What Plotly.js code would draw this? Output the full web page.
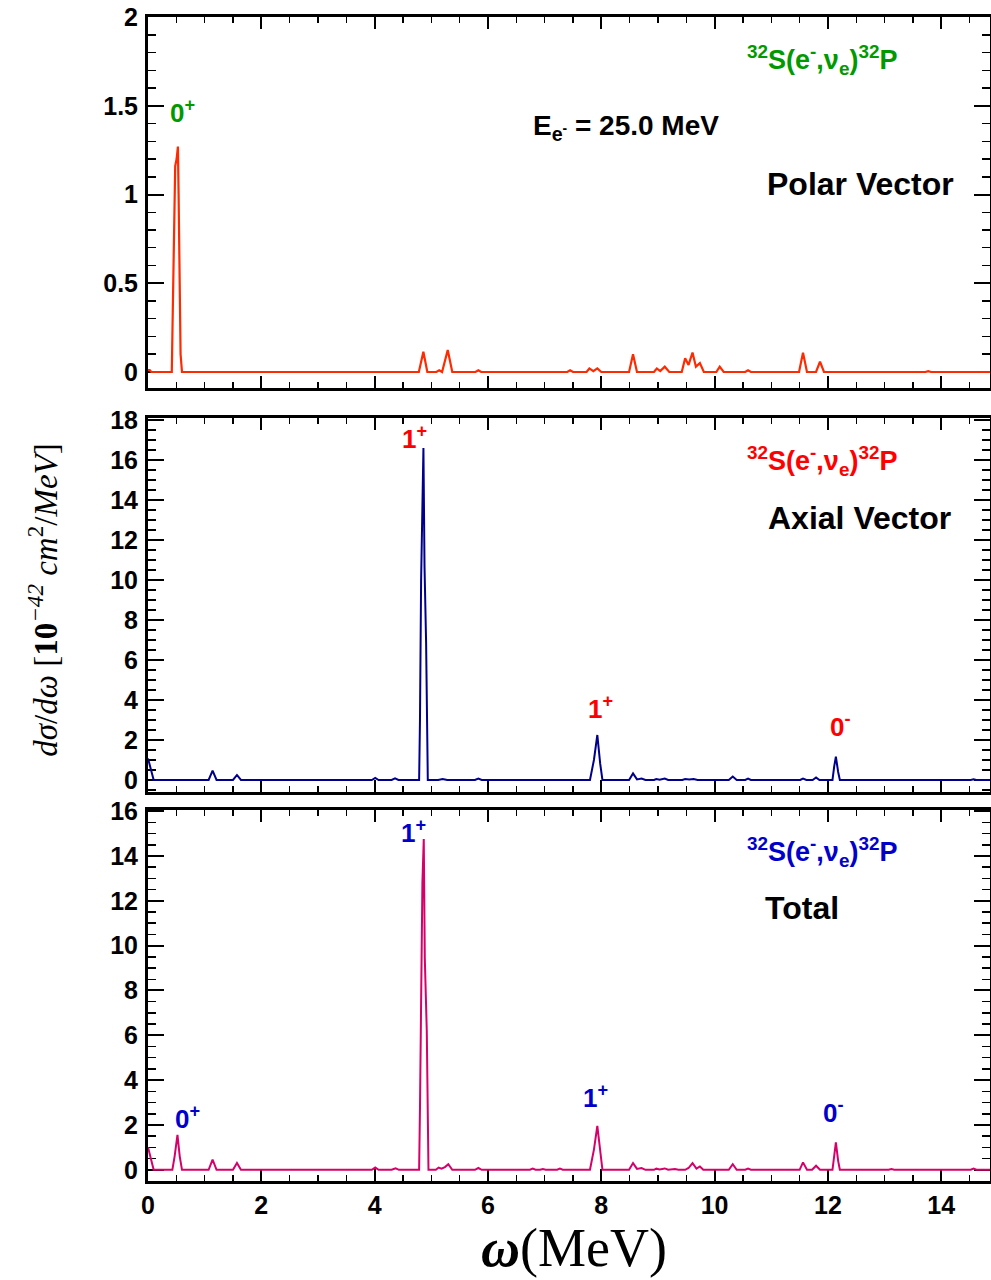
<!DOCTYPE html>
<html>
<head>
<meta charset="utf-8">
<script src="https://cdn.plot.ly/plotly-3.0.1.min.js"></script>
<style>html,body{margin:0;padding:0;background:#fff;}#chart{width:991px;height:1280px;}</style>
</head>
<body>
<div id="chart"></div>
<script>
// ---- Data ----
// Panel 1: Polar Vector
const polarOmega = [0, 0.03, 0.06, 0.42, 0.434, 0.45, 0.47, 0.48, 0.505, 0.528, 0.54, 0.556, 0.575, 0.6,
  4.78, 4.86, 4.93, 5.09, 5.14, 5.19, 5.29, 5.37, 5.78, 5.83, 5.88, 7.4, 7.45, 7.5,
  7.74, 7.79, 7.86, 7.93, 8.0, 8.49, 8.56, 8.63, 8.93, 8.98, 9.04, 9.12, 9.2,
  9.42, 9.48, 9.54, 9.61, 9.67, 9.74, 9.81, 10.03, 10.09, 10.16, 10.54, 10.59, 10.64,
  11.49, 11.56, 11.63, 11.79, 11.86, 11.93, 13.72, 13.77, 13.82, 14.86];
const polarSigma = [0.01, 0.01, 0, 0, 0.28, 0.6, 0.83, 1.16, 1.2, 1.27, 1.0, 0.5, 0.1, 0,
  0, 0.114, 0, 0, 0.01, 0, 0.124, 0, 0, 0.01, 0, 0, 0.01, 0,
  0, 0.02, 0.005, 0.02, 0, 0, 0.1, 0, 0, 0.02, 0.005, 0.03, 0,
  0, 0.077, 0.04, 0.11, 0.03, 0.05, 0, 0, 0.03, 0, 0, 0.01, 0,
  0, 0.109, 0, 0, 0.058, 0, 0, 0.005, 0, 0];

// Panel 2: Axial Vector
const axialOmega = [0, 0.05, 0.1, 1.07, 1.14, 1.21, 1.5, 1.57, 1.64, 3.95, 4.01, 4.07, 4.3, 4.36, 4.42,
  4.785, 4.8, 4.82, 4.843, 4.861, 4.88, 4.908, 4.938, 5.12, 5.2, 5.28, 5.77, 5.83, 5.89,
  6.78, 6.83, 6.88, 7.8, 7.87, 7.93, 7.98, 8.02, 8.49, 8.56, 8.63, 8.71, 8.78,
  8.93, 8.97, 9.03, 9.12, 9.18, 9.43, 9.48, 9.55, 9.63, 9.7, 10.25, 10.32, 10.39,
  10.54, 10.59, 10.64, 11.51, 11.56, 11.62, 11.73, 11.79, 11.85, 12.08, 12.11, 12.14, 12.18, 12.21,
  14.52, 14.57, 14.62, 14.86];
const axialSigma = [1.08, 0.6, 0, 0, 0.47, 0, 0, 0.25, 0, 0, 0.1, 0, 0, 0.08, 0,
  0, 3.0, 10.0, 14.3, 16.6, 10.7, 6.9, 0, 0, 0.05, 0, 0, 0.07, 0,
  0, 0.02, 0, 0, 1.0, 2.25, 0.83, 0, 0, 0.33, 0.03, 0.07, 0,
  0, 0.05, 0.01, 0.07, 0, 0, 0.05, 0.02, 0.05, 0, 0, 0.17, 0,
  0, 0.07, 0, 0, 0.07, 0, 0, 0.13, 0, 0, 0.67, 1.17, 0.4, 0,
  0, 0.03, 0, 0];

// Panel 3: Total
const totalOmega = [0, 0.05, 0.1, 0.43, 0.47, 0.52, 0.56, 0.6, 1.07, 1.14, 1.21, 1.5, 1.57, 1.64,
  3.2, 3.25, 3.3, 3.95, 4.01, 4.07, 4.3, 4.37, 4.43,
  4.785, 4.8, 4.82, 4.843, 4.867, 4.885, 4.92, 4.95, 5.08, 5.13, 5.18, 5.24, 5.3, 5.37,
  5.77, 5.83, 5.89, 6.74, 6.79, 6.84, 6.92, 6.97, 7.02, 7.22, 7.27, 7.32,
  7.8, 7.87, 7.93, 7.98, 8.02, 8.49, 8.56, 8.63, 8.71, 8.78, 8.93, 8.97, 9.03, 9.12, 9.18,
  9.3, 9.36, 9.48, 9.54, 9.61, 9.68, 9.74, 9.8, 10.25, 10.32, 10.39, 10.54, 10.59, 10.64,
  11.5, 11.56, 11.63, 11.72, 11.79, 11.86, 12.08, 12.11, 12.14, 12.18, 12.21,
  13.07, 13.12, 13.17, 14.52, 14.57, 14.62, 14.86];
const totalSigma = [1.01, 0.5, 0, 0, 0.6, 1.56, 0.6, 0, 0, 0.45, 0, 0, 0.3, 0,
  0, 0.02, 0, 0, 0.1, 0, 0, 0.07, 0,
  0, 2.75, 8.9, 12.8, 14.76, 9.45, 6.2, 0, 0, 0.1, 0.05, 0.12, 0.25, 0,
  0, 0.08, 0, 0, 0.05, 0, 0, 0.03, 0, 0, 0.05, 0,
  0, 0.9, 1.96, 0.75, 0, 0, 0.3, 0.04, 0.08, 0, 0, 0.05, 0.01, 0.06, 0,
  0.03, 0, 0, 0.08, 0.3, 0.05, 0.15, 0, 0, 0.25, 0, 0, 0.05, 0,
  0, 0.33, 0, 0, 0.18, 0, 0, 0.7, 1.22, 0.4, 0,
  0, 0.03, 0, 0, 0.05, 0, 0];

const xTickVals = [0, 2, 4, 6, 8, 10, 12, 14];
const xTickText = ['0', '2', '4', '6', '8', '10', '12', '14'];

// ---- Styling ----
const tickFont = {family: 'Liberation Sans, Arial, sans-serif', size: 25, color: '#000', weight: 'bold'};
const lab = (size, color) => ({family: 'Liberation Sans, Arial, sans-serif', size: size, color: color, weight: 'bold'});
const xRange = [0, 14.86];

function xAxis(anchor, showLabels) {
  return {
    anchor: anchor, domain: [0, 1], range: xRange, showgrid: false, zeroline: false,
    showline: true, linewidth: 3, linecolor: '#000', mirror: 'ticks',
    ticks: 'inside', ticklen: 12, tickwidth: 2, tickcolor: '#000', layer: 'below traces',
    tickvals: xTickVals, ticktext: xTickText, showticklabels: showLabels, tickfont: tickFont,
    minor: {dtick: 0.5, ticks: 'inside', ticklen: 6, tickwidth: 1.5, tickcolor: '#000'}
  };
}
function yAxis(anchor, domain, range, dtick, minorDtick) {
  return {
    anchor: anchor, domain: domain, range: range, showgrid: false, zeroline: false,
    showline: true, linewidth: 3, linecolor: '#000', mirror: 'ticks',
    ticks: 'inside', ticklen: 16, tickwidth: 2, tickcolor: '#000', layer: 'below traces',
    tick0: 0, dtick: dtick, tickfont: tickFont, ticklabelstandoff: 2,
    minor: {dtick: minorDtick, ticks: 'inside', ticklen: 8, tickwidth: 1.5, tickcolor: '#000'}
  };
}

const traces = [
  {x: polarOmega, y: polarSigma, xaxis: 'x', yaxis: 'y', mode: 'lines', line: {color: '#ff2a00', width: 2.2}, showlegend: false},
  {x: axialOmega, y: axialSigma, xaxis: 'x2', yaxis: 'y2', mode: 'lines', line: {color: '#00008c', width: 2}, showlegend: false},
  {x: totalOmega, y: totalSigma, xaxis: 'x3', yaxis: 'y3', mode: 'lines', line: {color: '#d6006a', width: 2}, showlegend: false}
];

const reaction = '<sup>32</sup>S(e<sup>-</sup>,ν<sub>e</sub>)<sup>32</sup>P';
function ann(xr, yr, x, y, text, font) {
  return {xref: xr, yref: yr, x: x, y: y, text: text, showarrow: false, font: font, xanchor: 'center', yanchor: 'middle'};
}

const annotations = [
  ann('x', 'y', 11.9, 1.76, reaction, lab(27, '#009a00')),
  ann('x', 'y', 8.44, 1.38, 'E<sub>e<sup>-</sup></sub> = 25.0 MeV', lab(28, '#000')),
  ann('x', 'y', 12.57, 1.06, 'Polar Vector', lab(32, '#000')),
  ann('x', 'y', 0.6, 1.47, '0<sup>+</sup>', lab(26, '#009a00')),

  ann('x2', 'y2', 11.9, 15.95, reaction, lab(27, '#ff0000')),
  ann('x2', 'y2', 12.55, 13.1, 'Axial Vector', lab(32, '#000')),
  ann('x2', 'y2', 4.71, 17.1, '1<sup>+</sup>', lab(26, '#ff0000')),
  ann('x2', 'y2', 7.98, 3.6, '1<sup>+</sup>', lab(26, '#ff0000')),
  ann('x2', 'y2', 12.23, 2.7, '0<sup>-</sup>', lab(26, '#ff0000')),

  ann('x3', 'y3', 11.9, 14.2, reaction, lab(27, '#0000cc')),
  ann('x3', 'y3', 11.55, 11.7, 'Total', lab(32, '#000')),
  ann('x3', 'y3', 4.68, 15.1, '1<sup>+</sup>', lab(26, '#0000cc')),
  ann('x3', 'y3', 0.69, 2.32, '0<sup>+</sup>', lab(26, '#0000cc')),
  ann('x3', 'y3', 7.89, 3.26, '1<sup>+</sup>', lab(26, '#0000cc')),
  ann('x3', 'y3', 12.1, 2.59, '0<sup>-</sup>', lab(26, '#0000cc')),

  {xref: 'paper', yref: 'paper', x: -0.124, y: 0.499, textangle: -90, showarrow: false,
   xanchor: 'center', yanchor: 'middle',
   text: '<i>dσ</i>/<i>dω</i> [<b>10</b><sup><i>−42</i></sup> <i>cm</i><sup>2</sup>/<i>MeV</i>]',
   font: {family: 'Liberation Serif, Times New Roman, serif', size: 33, color: '#000'}},
  {xref: 'paper', yref: 'paper', x: 0.506, y: -0.0576, showarrow: false, xanchor: 'center', yanchor: 'middle',
   text: '<b><i>ω</i></b>(MeV)',
   font: {family: 'Liberation Serif, Times New Roman, serif', size: 54, color: '#000'}}
];

const layout = {
  width: 991, height: 1280,
  margin: {l: 148, r: 1, t: 17, b: 99},
  paper_bgcolor: '#fff', plot_bgcolor: '#fff',
  xaxis: xAxis('y', false),
  yaxis: yAxis('x', [0.6813, 1], [-0.09, 2], 0.5, 0.1),
  xaxis2: xAxis('y2', false),
  yaxis2: yAxis('x2', [0.3342, 0.6555], [-0.6, 18.1], 2, 0.5),
  xaxis3: xAxis('y3', true),
  yaxis3: yAxis('x3', [0, 0.3187], [-0.5, 16.05], 2, 0.5),
  annotations: annotations
};

Plotly.newPlot('chart', traces, layout, {displayModeBar: false, staticPlot: true});
</script>
</body>
</html>
